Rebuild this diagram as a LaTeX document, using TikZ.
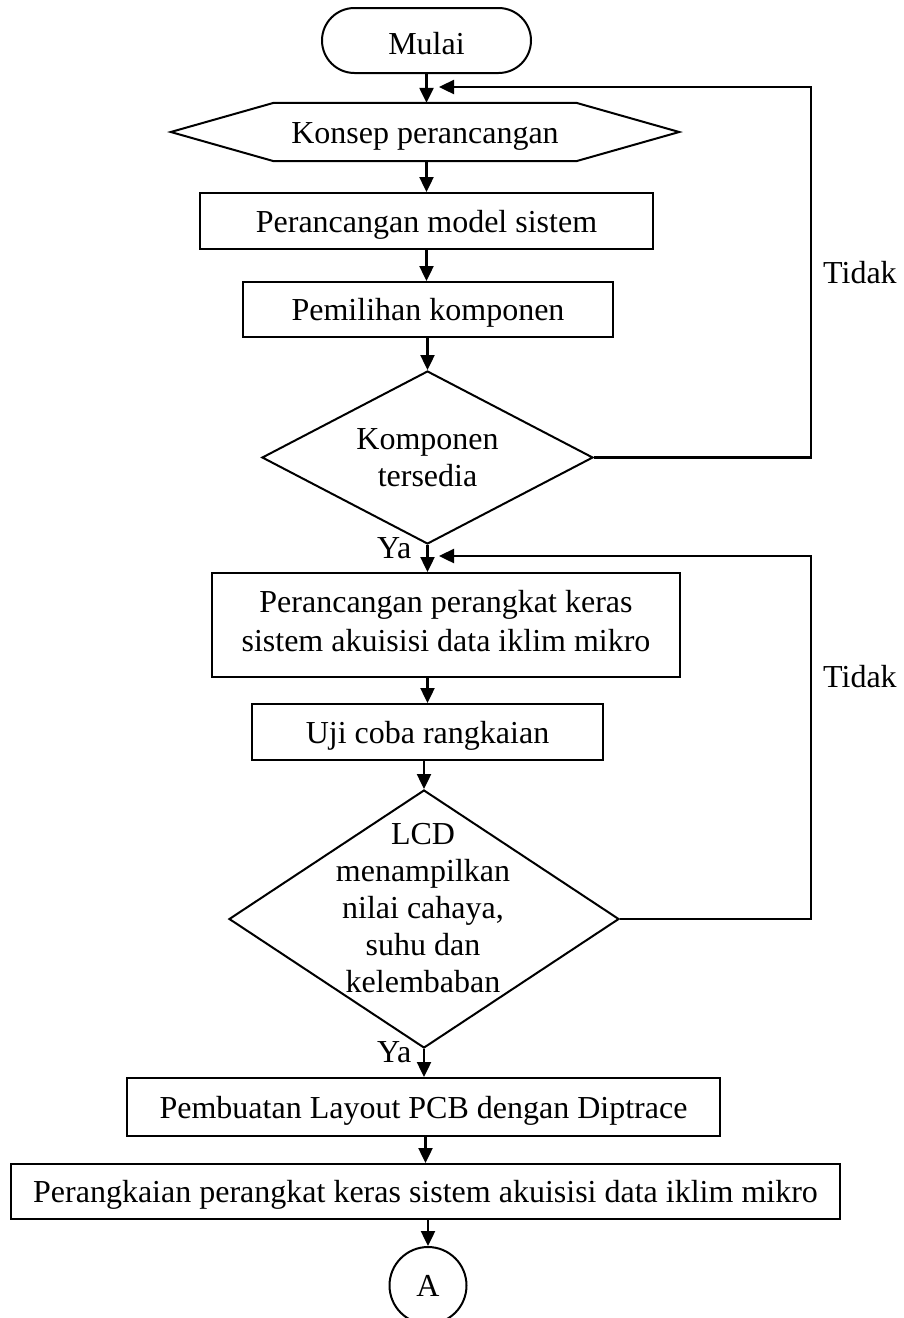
\documentclass[tikz,border=0pt]{standalone}
\usepackage{fontspec}
\setmainfont{Liberation Serif}
\usetikzlibrary{arrows.meta,shapes.misc,shapes.geometric,calc}
\begin{document}
\begin{tikzpicture}[x=1pt,y=-1pt,
  every node/.style={font=\fontsize{32}{36.8}\selectfont,inner sep=0pt},
  oneline/.style={text height=22pt,text depth=0pt},
  proc/.style={draw,line width=2pt,rectangle,oneline},
  term/.style={draw,line width=2pt,rounded rectangle,text height=28pt,text depth=0pt},
  decision/.style={draw,line width=2pt,diamond},
  conn/.style={draw,line width=2pt,circle,minimum size=77pt},
  flow/.style={line width=2pt},
  arr/.style={line width=2.4pt,-{Triangle[length=15pt,width=14pt]}}]
\useasboundingbox (0,0) rectangle (904,1318);

% start terminator and preparation step
\node[term,minimum width=209pt,minimum height=65pt] (start) at (426.5,40.5) {Mulai};
\node[oneline,minimum width=508pt,minimum height=58pt] (hex) at (425,132) {Konsep perancangan};
\draw[flow] (hex.west) -- ($(hex.north west)+(103,0)$) -- ($(hex.north east)+(-103,0)$)
  -- (hex.east) -- ($(hex.south east)+(-103,0)$) -- ($(hex.south west)+(103,0)$) -- cycle;

% process steps
\node[proc,minimum width=453pt,minimum height=56pt] (b1) at (426.5,221) {Perancangan model sistem};
\node[proc,minimum width=370pt,minimum height=55pt] (b2) at (428,309.5) {Pemilihan komponen};
\node[decision,minimum width=331pt,minimum height=173pt] (d1) at (427.5,457.5) {};
\node[align=center] (d1txt) at (427.5,457.5) {Komponen\\tersedia};
\node[draw,line width=2pt,minimum width=468pt,minimum height=104pt] (b3) at (446,625) {};
\node[align=center,font=\fontsize{32}{39}\selectfont] (b3txt) at (446,621.5)
  {Perancangan perangkat keras\\sistem akuisisi data iklim mikro};
\node[proc,minimum width=351pt,minimum height=56pt] (b4) at (427.5,732) {Uji coba rangkaian};
\node[decision,minimum width=390pt,minimum height=258pt] (d2) at (424,919) {};
\node[align=center] (d2txt) at (423,908)
  {LCD\\menampilkan\\nilai cahaya,\\suhu dan\\kelembaban};
\node[proc,minimum width=593pt,minimum height=58pt] (b5) at (423.5,1107)
  {Pembuatan Layout PCB dengan Diptrace};
\node[proc,minimum width=829pt,minimum height=55pt] (b6) at (425.5,1191.5)
  {Perangkaian perangkat keras sistem akuisisi data iklim mikro};
\node[conn] (A) at (428,1285.5) {A};

% main flow
\draw[arr] (start.south) -- (start.south |- hex.north);
\draw[arr] (b1.north |- hex.south) -- (b1.north);
\draw[arr] (b1.south) -- (b1.south |- b2.north);
\draw[arr] (d1.north |- b2.south) -- (d1.north);
\draw[arr] (d1.south) -- (d1.south |- b3.north);
\draw[arr] (b4.north |- b3.south) -- (b4.north);
\draw[arr] (d2.north |- b4.south) -- (d2.north);
\draw[arr] (d2.south) -- (d2.south |- b5.north);
\draw[arr] (b6.north |- b5.south) -- (b6.north);
\draw[arr] (A.north |- b6.south) -- (A.north);

% loops back on "Tidak"
\coordinate (in1) at (439,87);
\coordinate (rail1) at (811,87);
\draw[arr] (d1.east) -| (rail1) -- (in1);
\coordinate (in2) at (439,556);
\coordinate (rail2) at (811,556);
\draw[arr] (d2.east) -| (rail2) -- (in2);

% branch labels
\node[anchor=west] (no1) at (823,273) {Tidak};
\node[anchor=west] (no2) at (823,677) {Tidak};
\node[anchor=base west] (yes1) at (377,558) {Ya};
\node[anchor=base west] (yes2) at (377,1062) {Ya};
\end{tikzpicture}
\end{document}
